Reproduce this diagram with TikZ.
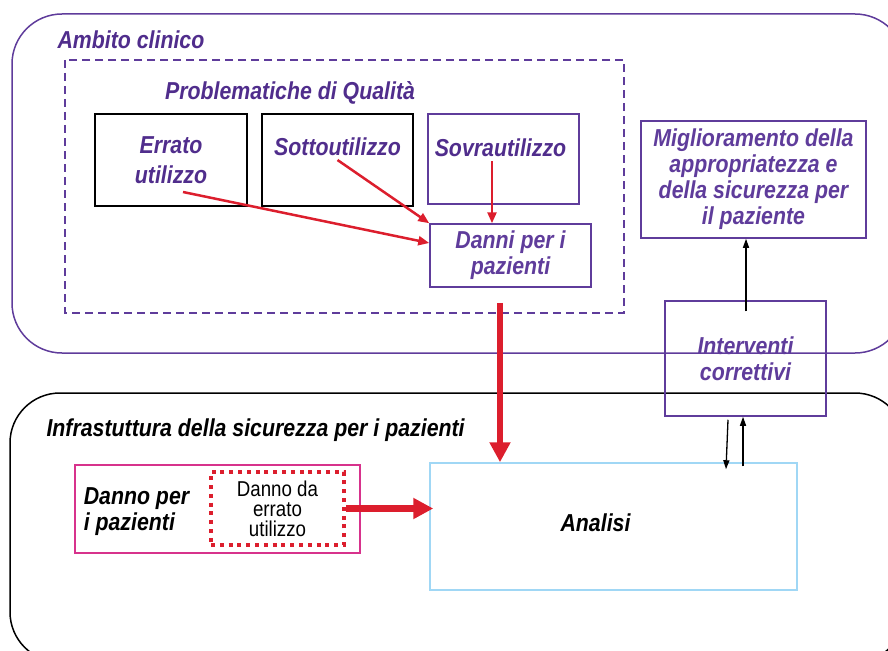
\documentclass[tikz,border=0pt]{standalone}
\usepackage{fontspec}
\setmainfont{Liberation Sans}
\newfontfamily\condfont{Liberation Sans}[FakeStretch=0.87]
\usetikzlibrary{arrows.meta,calc}
\definecolor{ptxt}{RGB}{80,45,140}
\definecolor{pline}{RGB}{95,60,155}
\definecolor{ared}{RGB}{220,30,45}
\definecolor{magen}{RGB}{215,50,140}
\definecolor{lblue}{RGB}{160,215,245}
\tikzset{
  frame/.style={
    line width=1.5pt,
    rounded corners=50pt
  },
  lbl/.style={
    font=\condfont\bfseries\itshape\fontsize{24.5}{26}\selectfont,
    text=ptxt,
    align=center
  },
  qbox/.style={
    lbl,
    draw,
    line width=1.5pt,
    inner sep=0pt
  },
  redarrow/.style={
    ared,
    line width=2.5pt,
    -{Triangle[width=9pt,length=11pt]}
  },
  bigarrow/.style={
    ared,
    line width=6.5pt,
    -{Triangle[width=20pt,length=20pt]}
  },
  thinarrow/.style={
    black,
    line width=1.3pt,
    -{Triangle[width=6pt,length=9pt]}
  }
}

\begin{document}
\begin{tikzpicture}[x=1pt, y=-1pt]
  \useasboundingbox (0,0) rectangle (888,650);
  \clip (0,0) rectangle (888,650);

  % frames
  \draw[frame, pline] (12,14) rectangle (905,353);
  \draw[frame, black] (10,393) rectangle (905,662);
  \draw[pline, line width=1.5pt, dash pattern=on 8pt off 5pt] (65,60) rectangle (624,313);

  \node[lbl, anchor=west] (ambito) at (54,40) {Ambito clinico};
  \node[lbl] (probl) at (290,93) {Problematiche di Qualità};
  \node[lbl, text=black, anchor=west] (infra) at (43,430) {Infrastuttura della sicurezza per i pazienti};

  % problematiche
  \node[qbox, black, text=ptxt, minimum width=152, minimum height=92,
        font=\condfont\bfseries\itshape\fontsize{24.5}{30}\selectfont] (errato) at (171,160) {Errato\\utilizzo};
  \node[qbox, black, minimum width=151, minimum height=92,
        label={[lbl, anchor=center, yshift=-33pt]north:Sottoutilizzo}] (sotto) at (337.5,160) {};
  \node[qbox, pline, minimum width=151, minimum height=90,
        label={[lbl, anchor=center, xshift=-3pt, yshift=-34pt]north:Sovrautilizzo}] (sovra) at (503.5,159) {};
  \node[qbox, pline, minimum width=161, minimum height=63] (danni) at (510.5,255.5) {Danni per i\\pazienti};

  \node[qbox, pline, minimum width=225, minimum height=117] (migl) at (753.5,179.5)
    {Miglioramento della\\appropriatezza e\\della sicurezza per\\il paziente};
  \node[qbox, pline, minimum width=161, minimum height=115] (intv) at (745.5,358.5) {Interventi\\correttivi};

  % infrastruttura
  \node[qbox, magen, minimum width=285, minimum height=88,
        label={[lbl, text=black, align=left, anchor=west, xshift=6pt, yshift=-3pt]west:Danno per\\i pazienti}] (danno) at (217.5,509) {};
  \node[draw=ared, line width=4pt, dash pattern=on 4pt off 4.8pt, inner sep=0pt,
        minimum width=133, minimum height=73, align=center,
        font=\condfont\fontsize{21.5}{20}\selectfont] (dz) at (277.5,508.5) {Danno da\\errato\\utilizzo};
  \node[draw=lblue, line width=1.5pt, inner sep=0pt, minimum width=367, minimum height=127,
        label={[lbl, text=black, xshift=-18pt, yshift=4pt]center:Analisi}] (an) at (613.5,526.5) {};

  % connectors
  \draw[redarrow] ([xshift=12pt,yshift=-32pt]errato.center) -- ([yshift=12.5pt]danni.west);
  \draw[redarrow] (sotto.center) -- (danni.north west);
  \draw[redarrow] ([xshift=-11.5pt,yshift=-2pt]sovra.center) -- ([xshift=-11.5pt]sovra.center |- danni.north);
  \draw[bigarrow] ([xshift=-10.5pt,yshift=-15pt]danni.south) -- ([xshift=-10.5pt]danni.south |- an.north);
  \draw[bigarrow] (dz.east) -- ([xshift=4pt]dz.east -| an.west);
  \draw[thinarrow] ([xshift=0.5pt,yshift=-11pt]intv.north) -- ([xshift=0.5pt]intv.north |- migl.south);
  \draw[thinarrow] ([xshift=-17.5pt,yshift=-3pt]intv.south) -- ([xshift=112.5pt,yshift=-7pt]an.north);
  \draw[thinarrow] ([xshift=129.5pt,yshift=-4pt]an.north) -- ([xshift=-2.5pt]intv.south);
\end{tikzpicture}
\end{document}
